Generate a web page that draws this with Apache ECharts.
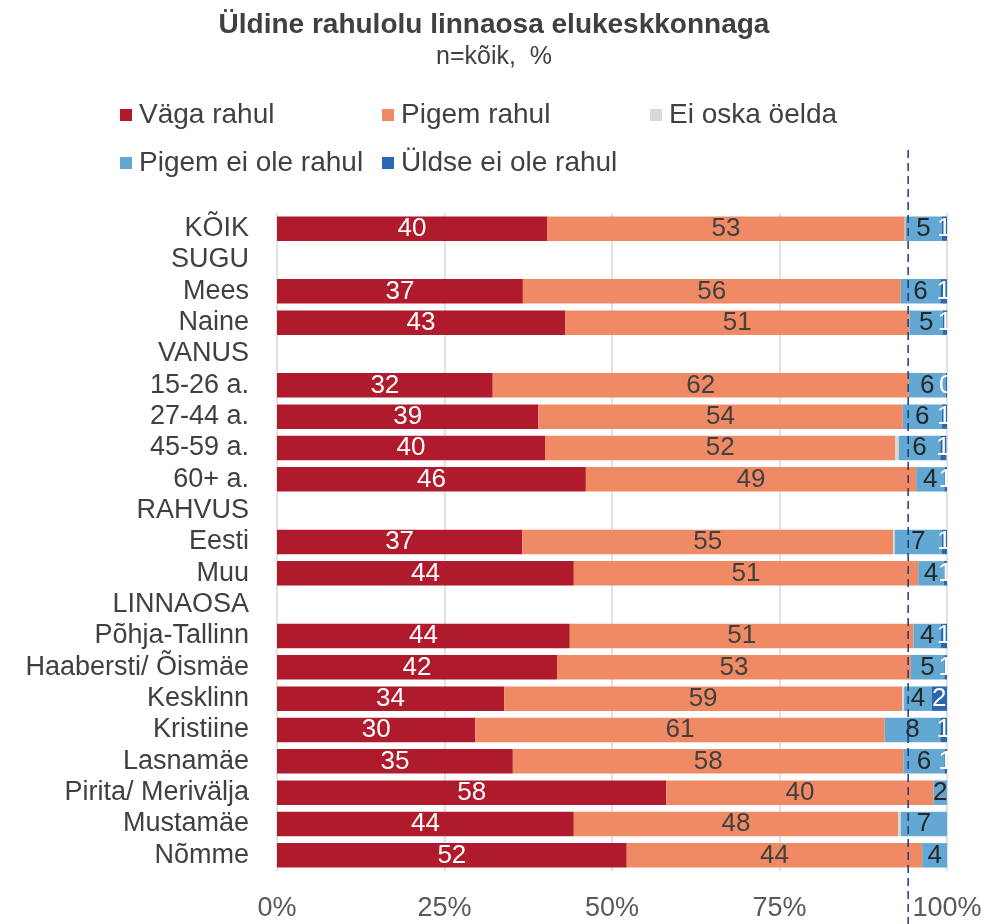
<!DOCTYPE html>
<html>
<head>
<meta charset="utf-8">
<script src="https://cdn.jsdelivr.net/npm/echarts@6/dist/echarts.min.js"></script>
<style>
  html, body { margin: 0; padding: 0; background: #fff; }
  #main { width: 988px; height: 924px; }
</style>
</head>
<body>
<div id="main"></div>
<script>
const categories = ['KÕIK', 'SUGU', 'Mees', 'Naine', 'VANUS', '15-26 a.', '27-44 a.', '45-59 a.', '60+ a.',
  'RAHVUS', 'Eesti', 'Muu', 'LINNAOSA', 'Põhja-Tallinn', 'Haabersti/ Õismäe', 'Kesklinn', 'Kristiine',
  'Lasnamäe', 'Pirita/ Merivälja', 'Mustamäe', 'Nõmme']

// values in %
const vagaRahul = [40.3, null, 36.7, 43.0, null, 32.2, 39.0, 40.0, 46.1, null, 36.6, 44.3, null, 43.7, 41.8, 33.9, 29.6, 35.2, 58.1, 44.3, 52.2]
const pigemRahul = [53.4, null, 56.4, 51.4, null, 62.1, 54.4, 52.3, 49.3, null, 55.4, 51.4, null, 51.3, 52.8, 59.4, 61.1, 58.3, 39.9, 48.4, 44.1]
const eiOska = [0.1, null, 0, 0, null, 0, 0, 0.5, 0, null, 0.2, 0, null, 0, 0, 0.3, 0, 0, 0, 0.4, 0]
const pigemEiOle = [5.4, null, 5.9, 5.0, null, 5.5, 5.8, 6.2, 4.2, null, 7.0, 3.8, null, 4.1, 5.0, 4.1, 8.3, 6.1, 2.0, 6.9, 3.7]
const uldseEiOle = [0.8, null, 1.0, 0.6, null, 0.3, 0.8, 0.9, 0.5, null, 0.8, 0.5, null, 0.9, 0.5, 2.3, 1.0, 0.5, null, null, null]

const seriesNames = ['Väga rahul', 'Pigem rahul', 'Ei oska öelda', 'Pigem ei ole rahul', 'Üldse ei ole rahul']
const colors = ['#AF1A2C', '#F08A65', '#D9D9D9', '#62A8D2', '#2A67B1']
const labelColors = ['#fff', '#404040', '#404040', '#262626', '#fff']
const xTicks = [0, 25, 50, 75, 100]
const refLine = 94.2

const font = 'Liberation Sans, Arial, sans-serif'
const chart = echarts.init(document.getElementById('main'))

const makeSeries = (name, data, i) => ({
  name: name,
  type: 'bar',
  stack: 'total',
  barCategoryGap: '22%',
  itemStyle: { color: colors[i] },
  label: {
    show: i !== 2,
    position: 'inside',
    color: labelColors[i],
    fontSize: 26,
    fontFamily: font,
    formatter(p) {
      if (p.value === null || p.value === undefined) return ''
      return Math.round(p.value)
    }
  },
  data: data
})

// legend laid out like the Excel one: fixed columns, two rows
const legendPos = [[120, 101], [382, 101], [650, 101], [120, 149], [382, 149]]

const options = {
  color: colors,
  title: [
    {
      text: 'Üldine rahulolu linnaosa elukeskkonnaga',
      left: 'center',
      top: 6,
      textStyle: { fontFamily: font, fontSize: 28, fontWeight: 'bold', color: '#404040' }
    },
    {
      text: 'n=kõik,  %',
      left: 'center',
      top: 40,
      textStyle: { fontFamily: font, fontSize: 25, fontWeight: 'normal', color: '#404040' }
    }
  ],
  legend: seriesNames.map((n, i) => ({
    data: [n],
    left: legendPos[i][0],
    top: legendPos[i][1],
    padding: 0,
    icon: 'rect',
    itemWidth: 12,
    itemHeight: 12,
    itemGap: 0,
    selectedMode: false,
    textStyle: { fontFamily: font, fontSize: 28, color: '#404040', padding: [0, 0, 0, 2] }
  })),
  grid: {
    left: 277,
    right: 41,
    top: 213,
    bottom: 53
  },
  xAxis: {
    type: 'value',
    min: 0,
    max: 100,
    interval: 25,
    axisLine: { show: false },
    axisTick: { show: false },
    splitLine: { show: true, lineStyle: { color: '#D9D9D9', width: 1.5 } },
    axisLabel: {
      fontFamily: font,
      fontSize: 27,
      color: '#595959',
      margin: 24,
      formatter(v) { return xTicks.includes(v) ? v + '%' : '' }
    }
  },
  yAxis: {
    type: 'category',
    inverse: true,
    data: categories,
    axisLine: { show: false },
    axisTick: { show: false },
    axisLabel: {
      interval: 0,
      fontFamily: font,
      fontSize: 27,
      color: '#404040',
      margin: 28
    }
  },
  series: [
    makeSeries(seriesNames[0], vagaRahul, 0),
    makeSeries(seriesNames[1], pigemRahul, 1),
    makeSeries(seriesNames[2], eiOska, 2),
    makeSeries(seriesNames[3], pigemEiOle, 3),
    makeSeries(seriesNames[4], uldseEiOle, 4)
  ]
}

chart.setOption(options)

// dashed reference line, runs from above the grid to the bottom edge
const refX = chart.convertToPixel({ xAxisIndex: 0 }, refLine)
chart.setOption({
  graphic: [{
    type: 'line',
    z: 100,
    shape: { x1: refX, y1: 150, x2: refX, y2: 924 },
    style: { stroke: '#1F3A7A', lineWidth: 1.5, lineDash: [8, 5] }
  }]
})
</script>
</body>
</html>
